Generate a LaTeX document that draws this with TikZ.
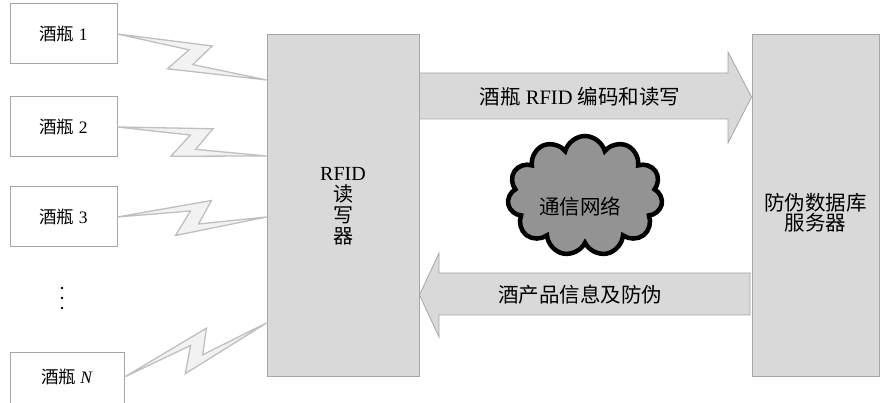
\documentclass[tikz,border=0pt]{standalone}
\usepackage{fontspec}
\setmainfont{Liberation Serif}
\newfontfamily\cjk{Noto Sans CJK SC}
\usetikzlibrary{calc,shapes.symbols,positioning}

\definecolor{boxgray}{HTML}{D9D9D9}
\definecolor{edgegray}{HTML}{A6A6A6}
\definecolor{boltfill}{HTML}{F2F2F2}
\definecolor{boltedge}{HTML}{BFBFBF}
\definecolor{cloudgray}{HTML}{939393}

\newcommand{\zh}[1]{{\cjk #1}}
% zigzag radio link from #1 to #2
\newcommand{\wireless}[2]{%
  \coordinate (m1) at ($(#1)!94pt!(#2)$);
  \coordinate (m2) at ($(#1)!81pt!(#2)$);
  \coordinate (m3) at ($(#1)!58pt!(#2)$);
  \coordinate (m4) at ($(#1)!73pt!(#2)$);
  \coordinate (z1) at ($(m1)!16.5pt!90:(#2)$);
  \coordinate (z2) at ($(m2)!7pt!-90:(#2)$);
  \coordinate (z3) at ($(m3)!18.5pt!-90:(#2)$);
  \coordinate (z4) at ($(m4)!6pt!90:(#2)$);
  \draw[zap] (#1) -- (z1) -- (z2) -- (#2) -- (z3) -- (z4) -- cycle;}

\begin{document}
\begin{tikzpicture}[x=1pt,y=-1pt,
    every node/.style={font=\fontsize{17.5}{21}\selectfont},
    bottle/.style={draw=edgegray, fill=white, line width=1pt,
      minimum width=107pt, minimum height=60pt, inner sep=0pt},
    block/.style={draw=edgegray, fill=boxgray, line width=1pt,
      minimum height=342pt, inner sep=0pt, align=center},
    fatarrow/.style={draw=edgegray, fill=boxgray, line width=0.8pt},
    zap/.style={draw=boltedge, fill=boltfill, line width=1.3pt},
    bigtext/.style={font=\fontsize{20.5}{24}\selectfont}]
  \useasboundingbox (0,0) rectangle (884,403);
  \clip (0,0) rectangle (884,403);

  % bottles
  \node[bottle] (b1) at (63.5,34) {\zh{酒瓶} 1};
  \node[bottle] (b2) at (63.5,127) {\zh{酒瓶} 2};
  \node[bottle] (b3) at (63.5,217) {\zh{酒瓶} 3};
  \foreach \y in {288,298,308}
    \fill (62,\y) circle (1.4);
  \node[bottle, minimum width=114pt] (bN) at (67,383) {};
  \node (bNlabel) at (67,377) {\zh{酒瓶} \textit{N}};

  % reader and server
  \node[block, minimum width=152pt, font=\fontsize{20}{21}\selectfont] (rdr) at (343,206)
    {RFID\\\zh{读}\\\zh{写}\\\zh{器}};
  \node[block, minimum width=127pt] (srv) at (815.5,206) {};
  \node[align=center, font=\fontsize{20.5}{18}\selectfont] (srvlabel) at (815.5,213)
    {\zh{防伪数据库}\\\zh{服务器}};

  % data flow
  \draw[fatarrow] (rdr.east |- 0,73) -- (728,73) -- (728,52) -- (srv.west |- 0,97)
    -- (728,143) -- (728,119) -- (rdr.east |- 0,119) -- cycle;
  \node[bigtext] (up) at (580,97) {\zh{酒瓶} RFID \zh{编码和读写}};
  \draw[fatarrow] (750,273) -- (439,273) -- (439,253) -- (rdr.east |- 0,295)
    -- (439,337) -- (439,315) -- (750,315) -- cycle;
  \node[bigtext] (down) at (580,295) {\zh{酒产品信息及防伪}};

  % network
  \node[cloud, cloud puffs=11, cloud ignores aspect, draw=black, line width=4.5pt,
    fill=cloudgray, minimum width=155pt, minimum height=120pt] (net) at (585,196) {};
  \node[bigtext] (netlabel) at (580,207) {\zh{通信网络}};

  % radio links
  \coordinate (r1) at (rdr.west |- 0,80);
  \coordinate (r2) at (rdr.west |- 0,156);
  \coordinate (r3) at (rdr.west |- 0,217);
  \coordinate (rN) at (rdr.west |- 0,323);
  \coordinate (tN) at (bN.east |- bNlabel);
  \wireless{b1.east}{r1}
  \wireless{b2.east}{r2}
  \wireless{b3.east}{r3}
  \wireless{tN}{rN}
\end{tikzpicture}
\end{document}
